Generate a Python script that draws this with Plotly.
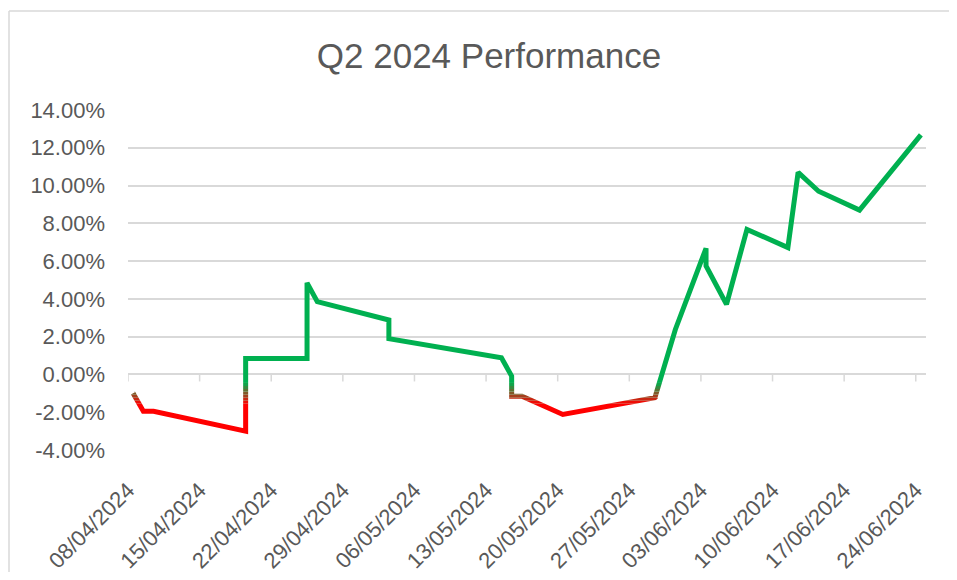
import plotly.graph_objects as go
import pandas as pd

# ---------------- data ----------------
dates = [
    "2024-04-08", "2024-04-09", "2024-04-10", "2024-04-19", "2024-04-19",
    "2024-04-25", "2024-04-25", "2024-04-26", "2024-05-03", "2024-05-03",
    "2024-05-14", "2024-05-15", "2024-05-15", "2024-05-16", "2024-05-20",
    "2024-05-29", "2024-05-31", "2024-06-03", "2024-06-03", "2024-06-05",
    "2024-06-07", "2024-06-11", "2024-06-12", "2024-06-14", "2024-06-18",
    "2024-06-24",
]
returns = [
    -0.0100, -0.0195, -0.0195, -0.0300, 0.0085,
    0.0085, 0.0485, 0.0385, 0.0288, 0.0189,
    0.0088, -0.0009, -0.0115, -0.0115, -0.0212,
    -0.0123, 0.0238, 0.0668, 0.0575, 0.0371,
    0.0768, 0.0672, 0.1070, 0.0970, 0.0870,
    0.1268,
]
tick_dates = [
    "2024-04-08", "2024-04-15", "2024-04-22", "2024-04-29", "2024-05-06",
    "2024-05-13", "2024-05-20", "2024-05-27", "2024-06-03", "2024-06-10",
    "2024-06-17", "2024-06-24",
]
tick_date_labels = [
    "08/04/2024", "15/04/2024", "22/04/2024", "29/04/2024", "06/05/2024",
    "13/05/2024", "20/05/2024", "27/05/2024", "03/06/2024", "10/06/2024",
    "17/06/2024", "24/06/2024",
]
y_tick_values = [-0.04, -0.02, 0.0, 0.02, 0.04, 0.06, 0.08, 0.10, 0.12, 0.14]
y_tick_labels = ["-4.00%", "-2.00%", "0.00%", "2.00%", "4.00%", "6.00%",
                 "8.00%", "10.00%", "12.00%", "14.00%"]
title_text = "Q2 2024 Performance"

# ---------------- style ----------------
FONT = "Liberation Sans, Arial, sans-serif"
TXT = "#595959"
GRID = "#D9D9D9"
GREEN = (0, 176, 80)
RED = (255, 0, 0)
LW = 5

# page body has an 8px margin on every side, so the figure is laid out smaller
W, H = 941, 564
ML, MT = 120, 102
PW, PH = 798, 340
MR = W - ML - PW
MB = H - MT - PH
Y_MIN, Y_MAX = -0.04, 0.14
X_RANGE = ["2024-04-08", "2024-06-25"]

# points sit in the middle of each day (Excel date axis)
x_vals = pd.to_datetime(pd.Series(dates)) + pd.Timedelta(hours=12)

fig = go.Figure()

# base green line
fig.add_trace(go.Scatter(
    x=x_vals, y=returns, mode="lines", xaxis="x", yaxis="y",
    line=dict(color="rgb(%d,%d,%d)" % GREEN, width=LW),
    hoverinfo="skip", showlegend=False,
))

# gradient: green above GRAD_HI, red below GRAD_LO (drawn in clipped bands)
GRAD_LO, GRAD_HI = -0.0155, -0.0045
N_BANDS = 7
span = Y_MAX - Y_MIN


def frac(v):
    return (v - Y_MIN) / span


def mix(t):
    r = round(RED[0] + (GREEN[0] - RED[0]) * t)
    g = round(RED[1] + (GREEN[1] - RED[1]) * t)
    b = round(RED[2] + (GREEN[2] - RED[2]) * t)
    return "rgb(%d,%d,%d)" % (r, g, b)


bands = [(Y_MIN, GRAD_LO, 0.0)]
step = (GRAD_HI - GRAD_LO) / N_BANDS
for k in range(N_BANDS):
    a = GRAD_LO + k * step
    b = a + step
    t = (k + 0.5) / N_BANDS
    bands.append((a, b, t))

layout_axes = {}
for i, (a, b, t) in enumerate(bands):
    idx = i + 2
    name = "y%d" % idx
    fig.add_trace(go.Scatter(
        x=x_vals, y=returns, mode="lines", xaxis="x", yaxis=name,
        line=dict(color=mix(t), width=LW),
        hoverinfo="skip", showlegend=False,
    ))
    layout_axes["yaxis%d" % idx] = dict(
        domain=[frac(a), frac(b)], range=[a, b], visible=False,
        anchor="x", fixedrange=True,
    )

# tick marks hanging below the 0% line
for d in tick_dates:
    fig.add_shape(
        type="line", xref="x", yref="y", x0=d, x1=d,
        ysizemode="pixel", yanchor=0, y0=0, y1=-7,
        line=dict(color=GRID, width=1.5), layer="below",
    )

# chart-area border: only top and left edges are visible
bx = (1 - ML) / PW
by = (MT + PH - 3) / PH
fig.add_shape(type="line", xref="paper", yref="paper",
              x0=bx, x1=(W + 20 - ML) / PW, y0=by, y1=by,
              line=dict(color=GRID, width=1.5), layer="below")
fig.add_shape(type="line", xref="paper", yref="paper",
              x0=bx, x1=bx, y0=by, y1=(MT + PH - (H + 20)) / PH,
              line=dict(color=GRID, width=1.5), layer="below")

fig.update_layout(
    width=W, height=H,
    margin=dict(l=ML, r=MR, t=MT, b=MB, pad=0),
    paper_bgcolor="white", plot_bgcolor="white",
    showlegend=False,
    title=dict(
        text=title_text, x=481 / W, xanchor="center", xref="container",
        y=1 - 48 / H, yanchor="middle", yref="container",
        font=dict(family=FONT, size=35, color=TXT),
    ),
    xaxis=dict(
        type="date", range=X_RANGE, anchor="y",
        tickvals=tick_dates, ticktext=tick_date_labels,
        tickangle=-45, showgrid=False, zeroline=False, showline=False,
        ticks="", ticklabelstandoff=22,
        tickfont=dict(family=FONT, size=22, color=TXT),
        fixedrange=True, automargin=False,
    ),
    yaxis=dict(
        range=[Y_MIN, Y_MAX], domain=[0, 1], anchor="x",
        tickvals=y_tick_values, ticktext=y_tick_labels,
        showgrid=True, gridcolor=GRID, gridwidth=1.5,
        zeroline=False, showline=False, ticks="", ticklabelstandoff=22,
        tickfont=dict(family=FONT, size=22, color=TXT),
        fixedrange=True, automargin=False,
    ),
    **layout_axes,
)

fig.write_html("out.html")
